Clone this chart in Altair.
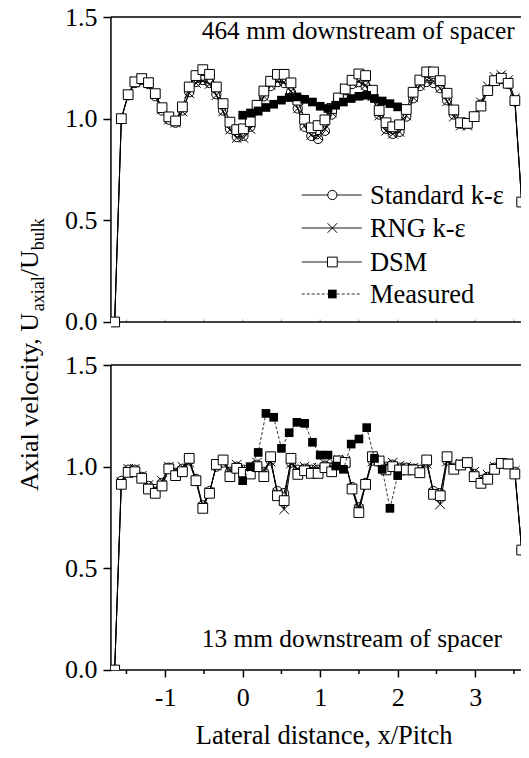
import altair as alt
import pandas as pd

# ---------------- data ----------------
# common lateral positions of the CFD profiles (x/Pitch), wall points at both ends
X_CFD = [-1.652,
         -1.566, -1.478, -1.391, -1.303, -1.216, -1.128, -1.041, -0.953, -0.866, -0.778,
         -0.690, -0.603, -0.515, -0.428, -0.340, -0.253, -0.165, -0.077, 0.010, 0.098,
         0.185, 0.273, 0.360, 0.448, 0.535, 0.623, 0.711, 0.798, 0.886, 0.973,
         1.061, 1.148, 1.236, 1.323, 1.411, 1.499, 1.586, 1.674, 1.761, 1.849,
         1.936, 2.024, 2.111, 2.199, 2.286, 2.374, 2.462, 2.549, 2.637, 2.724,
         2.812, 2.899, 2.987, 3.074, 3.162, 3.250, 3.337, 3.425, 3.512, 3.600,
         3.640]

# 464 mm downstream of spacer (upper panel)
TOP_STD = [0.0,
           1.000, 1.115, 1.175, 1.190, 1.170, 1.110, 1.040, 0.995, 0.980, 1.040,
           1.130, 1.180, 1.190, 1.175, 1.120, 1.040, 0.950, 0.910, 0.915, 0.960,
           1.040, 1.110, 1.160, 1.180, 1.175, 1.130, 1.050, 0.960, 0.915, 0.900,
           0.940, 1.020, 1.090, 1.140, 1.170, 1.180, 1.160, 1.110, 1.020, 0.950,
           0.925, 0.935, 1.010, 1.100, 1.160, 1.180, 1.175, 1.150, 1.090, 1.020,
           0.975, 0.975, 1.010, 1.070, 1.140, 1.185, 1.195, 1.170, 1.085, 0.590,
           0.0]
TOP_RNG = [0.0,
           1.000, 1.120, 1.185, 1.200, 1.180, 1.120, 1.045, 0.995, 0.980, 1.035,
           1.125, 1.175, 1.185, 1.170, 1.115, 1.035, 0.945, 0.905, 0.905, 0.950,
           1.035, 1.110, 1.165, 1.185, 1.180, 1.135, 1.050, 0.965, 0.920, 0.915,
           0.950, 1.030, 1.100, 1.150, 1.175, 1.185, 1.165, 1.110, 1.015, 0.940,
           0.925, 0.935, 1.015, 1.105, 1.165, 1.190, 1.185, 1.150, 1.085, 1.010,
           0.965, 0.965, 1.010, 1.080, 1.160, 1.205, 1.215, 1.190, 1.100, 0.590,
           0.0]
TOP_DSM = [0.0,
           1.000, 1.118, 1.181, 1.197, 1.177, 1.123, 1.054, 1.009, 0.989, 1.058,
           1.156, 1.212, 1.241, 1.218, 1.156, 1.074, 0.983, 0.946, 0.950, 0.985,
           1.066, 1.136, 1.184, 1.218, 1.218, 1.176, 1.091, 0.997, 0.955, 0.966,
           0.994, 1.050, 1.102, 1.146, 1.189, 1.220, 1.212, 1.140, 1.040, 0.980,
           0.960, 0.970, 1.045, 1.130, 1.190, 1.230, 1.230, 1.187, 1.125, 1.043,
           0.980, 0.977, 1.010, 1.062, 1.138, 1.187, 1.199, 1.174, 1.089, 0.590,
           0.0]

# 13 mm downstream of spacer (lower panel)
BOT_STD = [0.0,
           0.930, 0.985, 0.985, 0.950, 0.905, 0.890, 0.920, 0.995, 0.970, 0.990,
           1.030, 0.940, 0.810, 0.880, 1.000, 1.020, 0.975, 1.000, 0.985, 0.985,
           1.010, 0.975, 1.030, 0.880, 0.870, 1.020, 0.985, 0.990, 0.985, 0.985,
           1.005, 0.995, 1.030, 1.020, 0.900, 0.800, 0.920, 1.030, 1.025, 1.000,
           1.010, 0.995, 0.995, 0.990, 0.985, 1.020, 0.880, 0.870, 1.030, 0.995,
           1.010, 1.020, 0.965, 0.935, 0.950, 0.995, 1.015, 1.015, 0.975, 0.590,
           0.0]
BOT_RNG = [0.0,
           0.925, 0.990, 0.990, 0.955, 0.910, 0.895, 0.930, 1.000, 0.985, 1.000,
           1.020, 0.930, 0.800, 0.875, 1.005, 1.025, 0.985, 1.010, 0.995, 0.995,
           1.020, 0.985, 1.025, 0.870, 0.790, 1.015, 0.990, 1.000, 0.995, 0.995,
           1.015, 1.000, 1.035, 1.030, 0.890, 0.790, 0.910, 1.025, 1.030, 1.010,
           1.020, 1.005, 1.000, 0.995, 0.990, 1.015, 0.870, 0.815, 1.025, 1.000,
           1.015, 1.025, 0.975, 0.945, 0.960, 1.000, 1.020, 1.020, 0.980, 0.590,
           0.0]
BOT_DSM = [0.0,
           0.913, 0.972, 0.975, 0.943, 0.890, 0.869, 0.905, 0.989, 0.956, 0.975,
           1.041, 0.931, 0.795, 0.869, 1.011, 1.033, 0.951, 0.992, 0.972, 0.964,
           1.000, 0.951, 1.049, 0.857, 0.833, 1.041, 0.962, 0.980, 0.967, 0.967,
           0.995, 0.975, 1.028, 1.021, 0.890, 0.774, 0.913, 1.049, 1.028, 0.984,
           1.000, 0.984, 0.984, 0.984, 0.970, 1.033, 0.864, 0.857, 1.049, 0.987,
           1.008, 1.020, 0.951, 0.918, 0.938, 0.987, 1.016, 1.013, 0.964, 0.590,
           0.0]

# measurements
MEAS_X = [0.0, 0.1, 0.2, 0.3, 0.4, 0.5, 0.6, 0.7, 0.8, 0.9, 1.0,
          1.1, 1.2, 1.3, 1.4, 1.5, 1.6, 1.7, 1.8, 1.9, 2.0]
TOP_MEAS = [1.017, 1.028, 1.038, 1.055, 1.071, 1.091, 1.104, 1.107, 1.095, 1.082, 1.061,
            1.050, 1.066, 1.082, 1.099, 1.110, 1.115, 1.099, 1.087, 1.074, 1.058]
BOT_MEAS = [0.931, 1.000, 1.070, 1.262, 1.243, 1.090, 1.167, 1.218, 1.213, 1.120, 1.057,
            1.057, 1.003, 0.987, 1.111, 1.136, 1.192, 1.041, 0.987, 0.795, 0.956]

X_TICKS = [-1, 0, 1, 2, 3]
X_MINOR = [-1.5, -0.5, 0.5, 1.5, 2.5, 3.5]
X_INNER = [-1.5, -1.0, -0.5, 0.0, 0.5, 1.0, 1.5, 2.0, 2.5, 3.0, 3.5]
Y_TICKS = [0.0, 0.5, 1.0, 1.5]

MODELS = ["Standard k-ε", "RNG k-ε", "DSM"]

# ---------------- layout ----------------
FONT = "Liberation Serif"
OFF = 1.7115            # vertical offset of the upper panel in the shared y scale
YMAX = OFF + 1.5
XMIN = -1.7
W, H = 410, 653
XMAX = XMIN + W / 77.5  # same x scale as the original (77.5 px per pitch)
PX = H / YMAX           # pixels per unit of velocity ratio

xs = alt.Scale(domain=[XMIN, XMAX], nice=False, zero=False)
ys = alt.Scale(domain=[0, YMAX], nice=False, zero=False)

X_AXIS = alt.Axis(values=X_TICKS, domain=False, grid=False,
                  labelExpr="datum.value < 0 ? '-' + abs(datum.value) : '' + datum.value",
                  tickSize=7, tickWidth=1.5, tickColor="black",
                  labelFont=FONT, labelFontSize=26, labelColor="black",
                  labelPadding=7.5, title=None)
Y_AXIS = alt.Axis(values=[v for v in Y_TICKS] + [v + OFF for v in Y_TICKS],
                  labelExpr=f"format(datum.value > 1.6 ? datum.value - {OFF} : datum.value, '.1f')",
                  domain=False, grid=False, tickSize=8, tickWidth=1.5,
                  tickColor="black", labelFont=FONT, labelFontSize=26,
                  labelColor="black", labelPadding=6, title=None)


def XE():
    return alt.X("x:Q", scale=xs, axis=X_AXIS, title=None)


def YE():
    return alt.Y("y:Q", scale=ys, axis=Y_AXIS, title=None)


def cfd_frame(panel, off, model, vals):
    n = len(X_CFD)
    return pd.DataFrame({
        "key": panel + model, "model": model, "x": X_CFD, "i": list(range(n)),
        "y": [v + off for v in vals], "mark": [True] * (n - 1) + [False],
    })


def series(model, top, bot):
    return pd.concat([cfd_frame("top", OFF, model, top), cfd_frame("bot", 0.0, model, bot)])


std = series(MODELS[0], TOP_STD, BOT_STD)
rng = series(MODELS[1], TOP_RNG, BOT_RNG)
dsm = series(MODELS[2], TOP_DSM, BOT_DSM)
meas = pd.concat([
    pd.DataFrame({"key": "top", "x": MEAS_X, "y": [v + OFF for v in TOP_MEAS], "i": range(len(MEAS_X))}),
    pd.DataFrame({"key": "bot", "x": MEAS_X, "y": BOT_MEAS, "i": range(len(MEAS_X))}),
])

X_SHAPE = "M-1,-1L1,1M-1,1L1,-1"


def line(df):
    return alt.Chart(df).mark_line(color="black", strokeWidth=1, clip=True).encode(
        x=XE(), y=YE(), detail="key:N", order="i:Q")


def pts(df, **kw):
    return alt.Chart(df).transform_filter("datum.mark").mark_point(
        clip=True, opacity=1, strokeWidth=1, **kw).encode(x=XE(), y=YE())


std_line = line(std)
std_pts = pts(std, shape="circle", filled=False, color="black", size=85)
rng_line = line(rng)
rng_pts = pts(rng, shape=X_SHAPE, filled=False, color="black", size=90)
dsm_line = line(dsm)
dsm_pts = pts(dsm, shape="square", filled=True, color="white", stroke="black", size=95)
meas_line = alt.Chart(meas).mark_line(color="black", strokeWidth=0.8, strokeDash=[3, 2], clip=True).encode(
    x=XE(), y=YE(), detail="key:N", order="i:Q")
meas_pts = alt.Chart(meas).mark_point(shape="square", filled=True, color="black", size=75,
                                      opacity=1, clip=True).encode(x=XE(), y=YE())

# panel frames
frames = pd.DataFrame({
    "x": [XMIN, XMIN, XMIN, XMIN, XMIN, XMIN],
    "x2": [XMIN, XMIN, XMAX, XMAX, XMAX, XMAX],
    "y": [0.0, OFF, 0.0, 1.5, OFF, YMAX],
    "y2": [1.5, YMAX, 0.0, 1.5, OFF, YMAX],
})
frame_layer = alt.Chart(frames).mark_rule(color="black", strokeWidth=1.5).encode(
    x=XE(), x2="x2:Q", y=YE(), y2="y2:Q")

minor = pd.DataFrame({"x": X_MINOR, "y": [0.0] * len(X_MINOR), "y2": [-4 / PX] * len(X_MINOR)})
minor_layer = alt.Chart(minor).mark_rule(color="black", strokeWidth=1.5).encode(
    x=XE(), y=YE(), y2="y2:Q")

inner = pd.DataFrame({"x": X_INNER, "y": [OFF] * len(X_INNER), "y2": [OFF + 2.5 / PX] * len(X_INNER)})
inner_layer = alt.Chart(inner).mark_rule(color="#999999", strokeWidth=1).encode(
    x=XE(), y=YE(), y2="y2:Q")

one = pd.DataFrame({"a": [0]})


def text(t, x, y, size, **kw):
    return alt.Chart(one).mark_text(text=t, font=FONT, fontSize=size, color="black",
                                    baseline="alphabetic", **kw).encode(
        x=alt.value(x), y=alt.value(y))


# y-axis title with subscripts (rotated)
ytitle = [
    text("Axial velocity, U", -73, 474, 26, angle=270, align="left"),
    text("axial", -67, 474 - 179.8, 18, angle=270, align="left"),
    text("/U", -73, 474 - 179.8 - 35.0, 26, angle=270, align="left"),
    text("bulk", -67, 474 - 179.8 - 35.0 - 26.0, 18, angle=270, align="left"),
]
xtitle = text("Lateral distance, x/Pitch", 213.2, 727, 26.5, align="center")
notes = [
    text("464 mm downstream of spacer", 90.8, 22.3, 25.4, align="left"),
    text("13 mm downstream of spacer", 90.8, 630.3, 25.4, align="left"),
]

# legend
LEG_ROWS = [178, 211, 245, 277]
legend = []
for (label, marker), yy in zip(
        [(MODELS[0], "circle"), (MODELS[1], "x"), (MODELS[2], "square"), ("Measured", "filled")],
        LEG_ROWS):
    dash = [3, 2] if marker == "filled" else [1, 0]
    legend.append(alt.Chart(one).mark_rule(color="black", strokeWidth=0.8 if marker == "filled" else 1,
                                           strokeDash=dash).encode(
        x=alt.value(190.8), x2=alt.value(250.8), y=alt.value(yy)))
    if marker == "circle":
        m = alt.Chart(one).mark_point(shape="circle", filled=True, color="white", stroke="black",
                                      strokeWidth=1, size=85, opacity=1)
    elif marker == "x":
        m = alt.Chart(one).mark_point(shape=X_SHAPE, filled=False, color="black", strokeWidth=1,
                                      size=90, opacity=1)
    elif marker == "square":
        m = alt.Chart(one).mark_point(shape="square", filled=True, color="white", stroke="black",
                                      strokeWidth=1, size=95, opacity=1)
    else:
        m = alt.Chart(one).mark_point(shape="square", filled=True, color="black", size=75, opacity=1)
    legend.append(m.encode(x=alt.value(221.4), y=alt.value(yy)))
    legend.append(text(label, 259, yy + 8.6, 26.5, align="left"))

chart = alt.layer(
    std_line, inner_layer, minor_layer, frame_layer,
    std_pts, rng_line, rng_pts, dsm_line, dsm_pts, meas_line, meas_pts,
    *notes, *legend, *ytitle, xtitle,
).properties(
    width=W, height=H,
    autosize=alt.AutoSizeParams(type="none"),
    padding={"left": 102.95, "top": 9, "right": 0, "bottom": 80},
    background="white",
).configure_view(stroke=None).configure_axis(labelFont=FONT, labelFontSize=26)

chart.save("out.html", embed_options={"renderer": "svg", "actions": False})
